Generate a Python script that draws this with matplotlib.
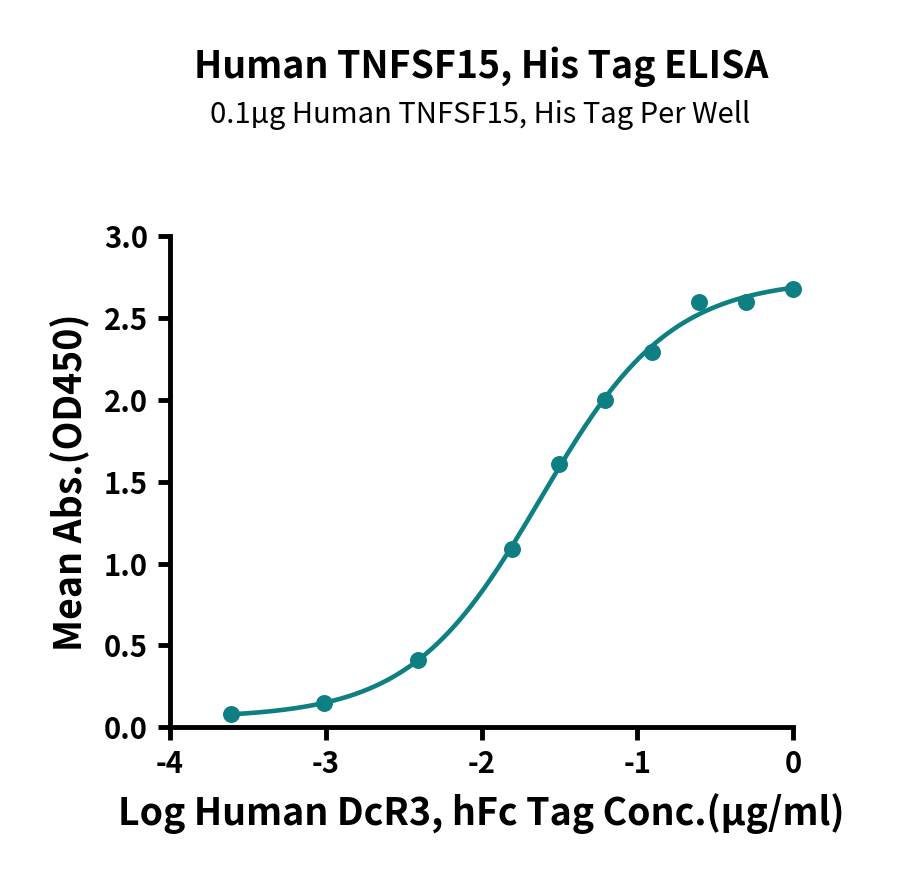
import numpy as np
import matplotlib
matplotlib.use("Agg")
import matplotlib.pyplot as plt

# data
log_conc = [-3.612, -3.010, -2.408, -1.806, -1.505, -1.204, -0.903, -0.602, -0.301, 0.0]
mean_abs = [0.08, 0.15, 0.41, 1.09, 1.61, 2.00, 2.29, 2.60, 2.60, 2.68]

x_ticks = [-4, -3, -2, -1, 0]
y_ticks = [0.0, 0.5, 1.0, 1.5, 2.0, 2.5, 3.0]

title = "Human TNFSF15, His Tag ELISA"
subtitle = "0.1µg Human TNFSF15, His Tag Per Well"
x_label = "Log Human DcR3, hFc Tag Conc.(µg/ml)"
y_label = "Mean Abs.(OD450)"

teal = "#0e7f83"
plt.rcParams["font.family"] = ["Noto Sans CJK SC", "DejaVu Sans"]

# 4PL fit: grid on ec50/hill, bottom & top by linear least squares
xd = np.array(log_conc)
yd = np.array(mean_abs)
best = None
for ec in np.linspace(-2.5, -1.0, 301):
    for hill in np.linspace(0.4, 3.0, 261):
        s = 1.0 / (1.0 + 10 ** ((ec - xd) * hill))
        A = np.column_stack([1 - s, s])
        coef, *_ = np.linalg.lstsq(A, yd, rcond=None)
        err = np.sum((A @ coef - yd) ** 2)
        if best is None or err < best[0]:
            best = (err, ec, hill, coef)
_, ec50, hill, (bottom, top) = best
xf = np.linspace(min(log_conc), max(log_conc), 400)
yf = bottom + (top - bottom) / (1 + 10 ** ((ec50 - xf) * hill))

fig = plt.figure(figsize=(9, 8.88), dpi=100)
ax = fig.add_axes([0.189, 0.181, 0.692, 0.553])

ax.plot(xf, yf, color=teal, lw=3.3, zorder=2)
ax.scatter(log_conc, mean_abs, s=125, color=teal, zorder=3, clip_on=False)

ax.set_xlim(-4, 0)
ax.set_ylim(0, 3.0)
ax.set_xticks(x_ticks)
ax.set_yticks(y_ticks)
ax.set_xticklabels([str(t) for t in x_ticks])
ax.set_yticklabels([f"{t:.1f}" for t in y_ticks])

for side in ["top", "right"]:
    ax.spines[side].set_visible(False)
for side in ["left", "bottom"]:
    ax.spines[side].set_linewidth(3.5)
ax.tick_params(axis="both", direction="out", length=9, width=3.5,
               labelsize=21, pad=7)
for lab in ax.get_xticklabels() + ax.get_yticklabels():
    lab.set_fontweight("bold")

ax.set_xlabel(x_label, fontsize=27, fontweight="bold", labelpad=10)
ax.set_ylabel(y_label, fontsize=27, fontweight="bold", labelpad=10)

fig.text(0.535, 0.925, title, ha="center", va="center", fontsize=27, fontweight="bold")
fig.text(0.533, 0.870, subtitle, ha="center", va="center", fontsize=21)

fig.savefig("out.png", dpi=100)
